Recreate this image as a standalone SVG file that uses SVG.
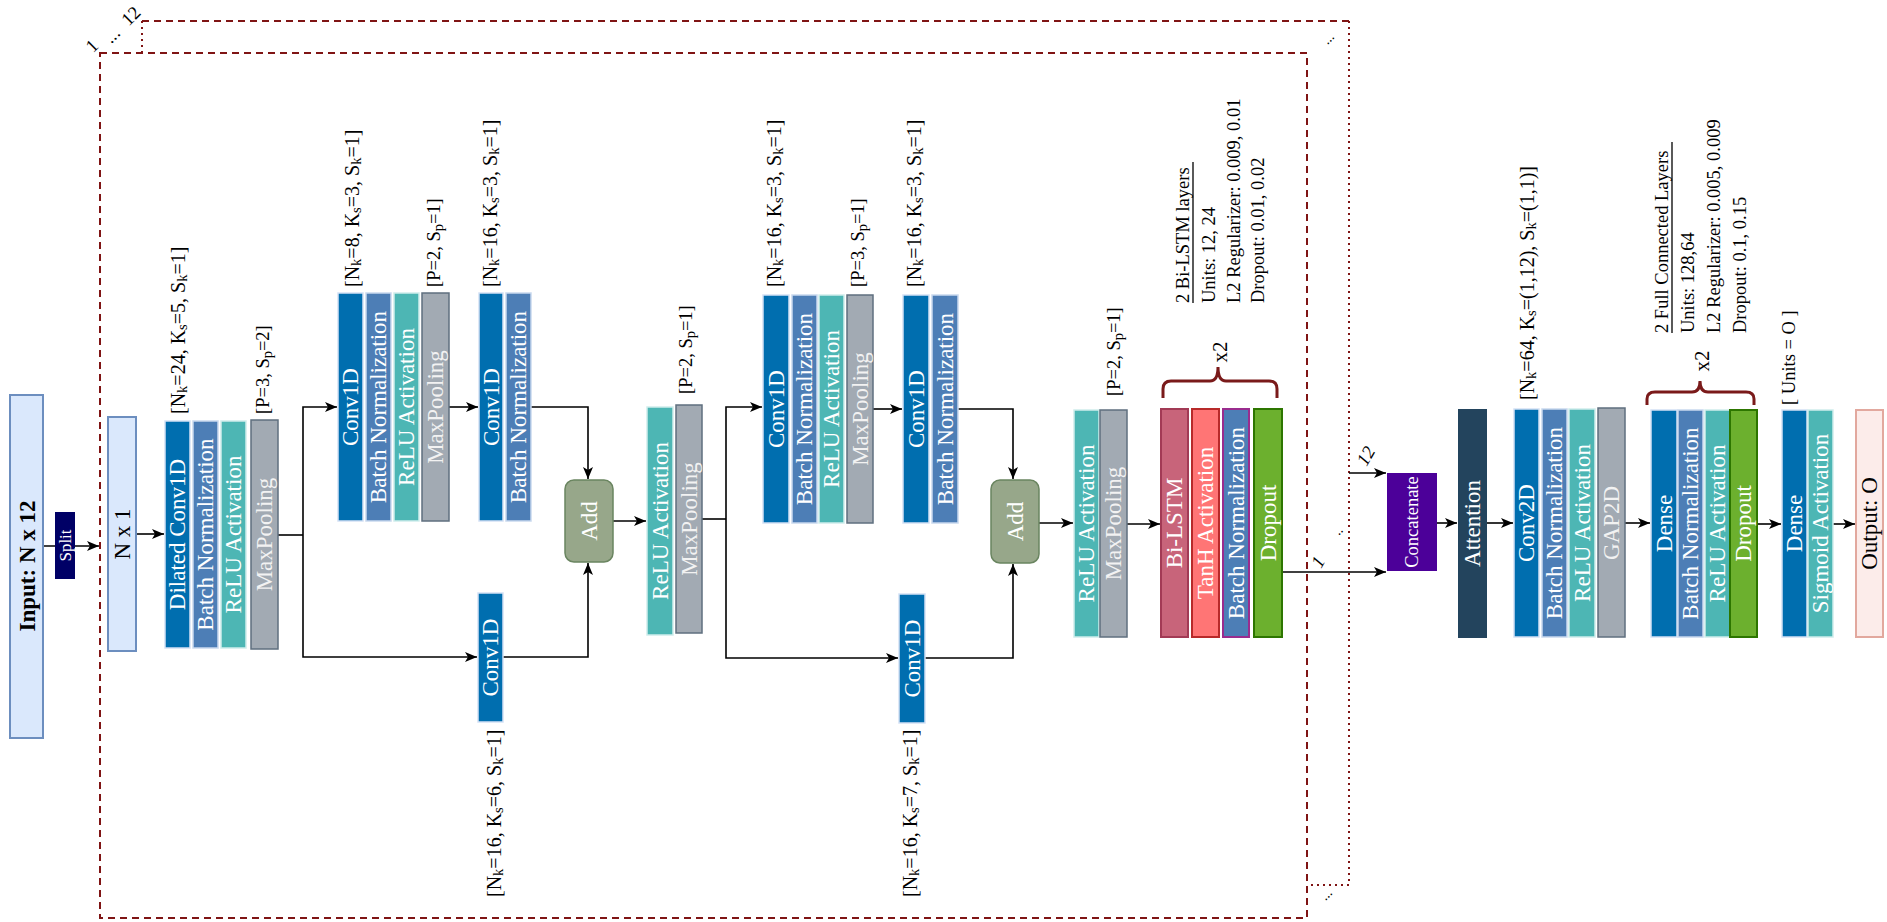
<svg xmlns="http://www.w3.org/2000/svg" width="1887" height="922" viewBox="0 0 1887 922">
  <defs>
    <marker id="arr" markerUnits="userSpaceOnUse" markerWidth="13" markerHeight="11" refX="12" refY="5" orient="auto">
      <path d="M0,0 L12,5 L0,10 L3,5 z" fill="#000"/>
    </marker>
    <style>
      .conv{fill:#006EAF;stroke:#D4E1F5;stroke-width:1.5}
      .bn{fill:#4D7EB6;stroke:#C9D9EE;stroke-width:1.5}
      .relu{fill:#4DB6B4;stroke:#CFEDEC;stroke-width:1.5}
      .pool{fill:#A2AAB3;stroke:#5F6F7F;stroke-width:1.5}
      .add{fill:#97A78A;stroke:#6A8560;stroke-width:1.5}
      .drop{fill:#6CB02E;stroke:#2D7600;stroke-width:2}
      .t{font-family:"Liberation Serif","Times New Roman",serif;font-size:23px;fill:#fff;text-anchor:middle;dominant-baseline:central}
      .tk{fill:#000}
      .tg{fill:#F2F2F2}
      .small{font-size:17px}
      .cat{font-size:18.5px}
      .lbl{font-family:"Liberation Serif","Times New Roman",serif;font-size:18.5px;fill:#000;dominant-baseline:central}
      .par{font-size:20px}
      .s{font-size:14.5px}
      .rep{font-size:21px}
      .dots{font-size:14px}
      .link{fill:none;stroke:#000;stroke-width:1.6}
      .arrow{marker-end:url(#arr)}
      .frame{fill:none;stroke:#7F1414;stroke-width:2;stroke-dasharray:7 5}
      .dot{fill:none;stroke:#7F1414;stroke-width:2;stroke-dasharray:2 4}
      .brace{fill:none;stroke:#7A1A1A;stroke-width:3}
    </style>
  </defs>

  <!-- replicated branch frames (1 ... 12) -->
  <g id="frames">
    <path class="frame" d="M142,21 L1349,21"/>
    <path class="dot" d="M142,21 L142,53"/>
    <path class="dot" d="M1349,21 L1349,885 L1307,885"/>
    <rect class="frame" x="100" y="53" width="1207" height="865"/>
    <text class="lbl" transform="translate(92,46) rotate(-45)" text-anchor="middle">1</text>
    <text class="lbl" transform="translate(112,35) rotate(-45)" text-anchor="middle">...</text>
    <text class="lbl" transform="translate(131,16) rotate(-45)" text-anchor="middle">12</text>
    <text class="lbl dots" transform="translate(1328,38) rotate(-45)" text-anchor="middle">...</text>
    <text class="lbl dots" transform="translate(1326,894) rotate(-45)" text-anchor="middle">...</text>
  </g>

  <!-- connectors -->
  <g id="connectors">
    <path class="link arrow" d="M43,546 L99,546"/>
    <path class="link arrow" d="M136,534 L164,534"/>
    <path class="link" d="M278,535 L303,535"/>
    <path class="link arrow" d="M303,535 L303,407 L337,407"/>
    <path class="link arrow" d="M303,535 L303,657 L477,657"/>
    <path class="link arrow" d="M449,407 L478,407"/>
    <path class="link arrow" d="M531,407 L588,407 L588,479"/>
    <path class="link arrow" d="M503,657 L588,657 L588,563"/>
    <path class="link arrow" d="M613,521 L646,521"/>
    <path class="link" d="M702,519 L726,519"/>
    <path class="link arrow" d="M726,519 L726,407 L762,407"/>
    <path class="link arrow" d="M726,519 L726,658 L898,658"/>
    <path class="link arrow" d="M873,409 L902,409"/>
    <path class="link arrow" d="M958,409 L1013,409 L1013,479"/>
    <path class="link arrow" d="M925,658 L1013,658 L1013,564"/>
    <path class="link arrow" d="M1039,523 L1073,523"/>
    <path class="link arrow" d="M1127,524 L1160,524"/>
    <path class="link arrow" d="M1282,572 L1386,572"/>
    <path class="link arrow" d="M1349,473 L1386,473"/>
    <path class="link arrow" d="M1437,523 L1457,523"/>
    <path class="link arrow" d="M1487,523 L1513,523"/>
    <path class="link arrow" d="M1625,523 L1650,523"/>
    <path class="link arrow" d="M1757,524 L1781,524"/>
    <path class="link arrow" d="M1833,524 L1855,524"/>
    <text class="lbl" transform="translate(1318,562) rotate(-60)" text-anchor="middle" font-style="italic">1</text>
    <text class="lbl dots" transform="translate(1338,530) rotate(-45)" text-anchor="middle">..</text>
    <text class="lbl" transform="translate(1366,456) rotate(-60)" text-anchor="middle" font-style="italic">12</text>
  </g>

  <g id="input">
    <rect x="10" y="395" width="33" height="343" fill="#DAE8FC" stroke="#6C8EBF" stroke-width="2"/>
    <text class="t tk" transform="translate(27,566) rotate(-90)" font-weight="bold">Input: N x 12</text>
  </g>
  <g id="split">
    <rect x="55" y="512" width="20" height="67" fill="#000066"/>
    <text class="t small" transform="translate(65,545.5) rotate(-90)">Split</text>
  </g>
  <g id="nx1">
    <rect x="108" y="417" width="28" height="234" fill="#DAE8FC" stroke="#6C8EBF" stroke-width="2"/>
    <text class="t tk" transform="translate(122,534) rotate(-90)">N x 1</text>
  </g>

  <!-- dilated conv stage -->
  <g id="dilated-block">
    <rect class="conv" x="165" y="421" width="25" height="227"/>
    <rect class="bn" x="193" y="421" width="25" height="227"/>
    <rect class="relu" x="221" y="421" width="25" height="227"/>
    <rect class="pool" x="251" y="420" width="27" height="229"/>
    <text class="t" transform="translate(177.5,534.5) rotate(-90)">Dilated Conv1D</text>
    <text class="t" transform="translate(205.5,534.5) rotate(-90)">Batch Normalization</text>
    <text class="t" transform="translate(233.5,534.5) rotate(-90)">ReLU Activation</text>
    <text class="t tg" transform="translate(264.5,534.5) rotate(-90)">MaxPooling</text>
    <text class="lbl par" transform="translate(178,414) rotate(-90)">[N<tspan class="s" dy="4">k</tspan><tspan dy="-4">=24, K</tspan><tspan class="s" dy="4">s</tspan><tspan dy="-4">=5, S</tspan><tspan class="s" dy="4">k</tspan><tspan dy="-4">=1]</tspan></text>
    <text class="lbl" transform="translate(263,414) rotate(-90)">[P=3, S<tspan class="s" dy="4">p</tspan><tspan dy="-4">=2]</tspan></text>
  </g>

  <!-- residual block 1 -->
  <g id="res1-main">
    <rect class="conv" x="338" y="293" width="25" height="228"/>
    <rect class="bn" x="366" y="293" width="25" height="228"/>
    <rect class="relu" x="394" y="293" width="25" height="228"/>
    <rect class="pool" x="422" y="293" width="27" height="228"/>
    <text class="t" transform="translate(350.5,407) rotate(-90)">Conv1D</text>
    <text class="t" transform="translate(378.5,407) rotate(-90)">Batch Normalization</text>
    <text class="t" transform="translate(406.5,407) rotate(-90)">ReLU Activation</text>
    <text class="t tg" transform="translate(435.5,407) rotate(-90)">MaxPooling</text>
    <text class="lbl par" transform="translate(352,287) rotate(-90)">[N<tspan class="s" dy="4">k</tspan><tspan dy="-4">=8, K</tspan><tspan class="s" dy="4">s</tspan><tspan dy="-4">=3, S</tspan><tspan class="s" dy="4">k</tspan><tspan dy="-4">=1]</tspan></text>
    <text class="lbl" transform="translate(434,287) rotate(-90)">[P=2, S<tspan class="s" dy="4">p</tspan><tspan dy="-4">=1]</tspan></text>
  </g>
  <g id="res1-conv2">
    <rect class="conv" x="479" y="293" width="24" height="228"/>
    <rect class="bn" x="506" y="293" width="25" height="228"/>
    <text class="t" transform="translate(491,407) rotate(-90)">Conv1D</text>
    <text class="t" transform="translate(518.5,407) rotate(-90)">Batch Normalization</text>
    <text class="lbl par" transform="translate(490,287) rotate(-90)">[N<tspan class="s" dy="4">k</tspan><tspan dy="-4">=16, K</tspan><tspan class="s" dy="4">s</tspan><tspan dy="-4">=3, S</tspan><tspan class="s" dy="4">k</tspan><tspan dy="-4">=1]</tspan></text>
  </g>
  <g id="res1-shortcut">
    <rect class="conv" x="478" y="593" width="25" height="129"/>
    <text class="t" transform="translate(490.5,657.5) rotate(-90)">Conv1D</text>
    <text class="lbl par" transform="translate(494,897) rotate(-90)">[N<tspan class="s" dy="4">k</tspan><tspan dy="-4">=16, K</tspan><tspan class="s" dy="4">s</tspan><tspan dy="-4">=6, S</tspan><tspan class="s" dy="4">k</tspan><tspan dy="-4">=1]</tspan></text>
  </g>
  <g id="add1">
    <rect class="add" x="565" y="480" width="48" height="82" rx="9"/>
    <text class="t" transform="translate(589,521) rotate(-90)">Add</text>
  </g>
  <g id="post-add1">
    <rect class="relu" x="647" y="407" width="26" height="228"/>
    <rect class="pool" x="676" y="405" width="26" height="228"/>
    <text class="t" transform="translate(660,521) rotate(-90)">ReLU Activation</text>
    <text class="t tg" transform="translate(689,519) rotate(-90)">MaxPooling</text>
    <text class="lbl" transform="translate(686,394) rotate(-90)">[P=2, S<tspan class="s" dy="4">p</tspan><tspan dy="-4">=1]</tspan></text>
  </g>

  <!-- residual block 2 -->
  <g id="res2-main">
    <rect class="conv" x="763" y="295" width="26" height="228"/>
    <rect class="bn" x="792" y="295" width="25" height="228"/>
    <rect class="relu" x="819" y="295" width="25" height="228"/>
    <rect class="pool" x="847" y="295" width="26" height="228"/>
    <text class="t" transform="translate(776,409) rotate(-90)">Conv1D</text>
    <text class="t" transform="translate(804.5,409) rotate(-90)">Batch Normalization</text>
    <text class="t" transform="translate(831.5,409) rotate(-90)">ReLU Activation</text>
    <text class="t tg" transform="translate(860,409) rotate(-90)">MaxPooling</text>
    <text class="lbl par" transform="translate(774,287) rotate(-90)">[N<tspan class="s" dy="4">k</tspan><tspan dy="-4">=16, K</tspan><tspan class="s" dy="4">s</tspan><tspan dy="-4">=3, S</tspan><tspan class="s" dy="4">k</tspan><tspan dy="-4">=1]</tspan></text>
    <text class="lbl" transform="translate(858,287) rotate(-90)">[P=3, S<tspan class="s" dy="4">p</tspan><tspan dy="-4">=1]</tspan></text>
  </g>
  <g id="res2-conv2">
    <rect class="conv" x="903" y="295" width="26" height="228"/>
    <rect class="bn" x="932" y="295" width="26" height="228"/>
    <text class="t" transform="translate(916,409) rotate(-90)">Conv1D</text>
    <text class="t" transform="translate(945,409) rotate(-90)">Batch Normalization</text>
    <text class="lbl par" transform="translate(914,287) rotate(-90)">[N<tspan class="s" dy="4">k</tspan><tspan dy="-4">=16, K</tspan><tspan class="s" dy="4">s</tspan><tspan dy="-4">=3, S</tspan><tspan class="s" dy="4">k</tspan><tspan dy="-4">=1]</tspan></text>
  </g>
  <g id="res2-shortcut">
    <rect class="conv" x="899" y="594" width="26" height="129"/>
    <text class="t" transform="translate(912,658.5) rotate(-90)">Conv1D</text>
    <text class="lbl par" transform="translate(910,897) rotate(-90)">[N<tspan class="s" dy="4">k</tspan><tspan dy="-4">=16, K</tspan><tspan class="s" dy="4">s</tspan><tspan dy="-4">=7, S</tspan><tspan class="s" dy="4">k</tspan><tspan dy="-4">=1]</tspan></text>
  </g>
  <g id="add2">
    <rect class="add" x="991" y="480" width="48" height="83" rx="9"/>
    <text class="t" transform="translate(1015,521.5) rotate(-90)">Add</text>
  </g>
  <g id="post-add2">
    <rect class="relu" x="1074" y="410" width="25" height="227"/>
    <rect class="pool" x="1100" y="410" width="27" height="227"/>
    <text class="t" transform="translate(1086.5,523.5) rotate(-90)">ReLU Activation</text>
    <text class="t tg" transform="translate(1113.5,523.5) rotate(-90)">MaxPooling</text>
    <text class="lbl" transform="translate(1114,396) rotate(-90)">[P=2, S<tspan class="s" dy="4">p</tspan><tspan dy="-4">=1]</tspan></text>
  </g>

  <!-- recurrent stage -->
  <g id="bilstm-block">
    <rect x="1161" y="409" width="27" height="228" fill="#C8647A" stroke="#A23A55" stroke-width="2"/>
    <rect x="1192" y="409" width="27" height="228" fill="#FF7575" stroke="#B82A2A" stroke-width="2"/>
    <rect x="1223" y="409" width="26" height="228" fill="#4D7EB6" stroke="#9A2C8E" stroke-width="2"/>
    <rect class="drop" x="1254" y="409" width="28" height="228"/>
    <text class="t" transform="translate(1174.5,523) rotate(-90)">Bi-LSTM</text>
    <text class="t" transform="translate(1205.5,523) rotate(-90)">TanH Activation</text>
    <text class="t" transform="translate(1236,523) rotate(-90)">Batch Normalization</text>
    <text class="t" transform="translate(1268,523) rotate(-90)">Dropout</text>
    <path class="brace" d="M1163,398 L1163,389 Q1163,381 1171,381 L1210,381 Q1218,381 1218,367 Q1218,381 1226,381 L1269,381 Q1277,381 1277,389 L1277,398"/>
    <text class="lbl rep" transform="translate(1220,352) rotate(-90)" text-anchor="middle">x2</text>
    <text class="lbl" transform="translate(1183,303) rotate(-90)">2 Bi-LSTM layers</text>
    <path d="M1193,303 L1193,162" stroke="#000" stroke-width="1.3"/>
    <text class="lbl" transform="translate(1209,303) rotate(-90)">Units: 12, 24</text>
    <text class="lbl" transform="translate(1234,303) rotate(-90)">L2 Regularizer: 0.009, 0.01</text>
    <text class="lbl" transform="translate(1258,303) rotate(-90)">Dropout: 0.01, 0.02</text>
  </g>

  <g id="concatenate">
    <rect x="1387" y="473" width="50" height="98" fill="#4C0099"/>
    <text class="t cat" transform="translate(1412,522) rotate(-90)">Concatenate</text>
  </g>
  <g id="attention">
    <rect x="1458" y="409" width="29" height="229" fill="#23445D"/>
    <text class="t" transform="translate(1472.5,523.5) rotate(-90)">Attention</text>
  </g>

  <g id="conv2d-block">
    <rect class="conv" x="1514" y="409" width="25" height="228"/>
    <rect class="bn" x="1542" y="409" width="25" height="228"/>
    <rect class="relu" x="1569" y="409" width="26" height="228"/>
    <rect class="pool" x="1598" y="408" width="27" height="229"/>
    <text class="t" transform="translate(1526.5,523) rotate(-90)">Conv2D</text>
    <text class="t" transform="translate(1554.5,523) rotate(-90)">Batch Normalization</text>
    <text class="t" transform="translate(1582,523) rotate(-90)">ReLU Activation</text>
    <text class="t tg" transform="translate(1611.5,523) rotate(-90)">GAP2D</text>
    <text class="lbl par" transform="translate(1527,400) rotate(-90)">[N<tspan class="s" dy="4">k</tspan><tspan dy="-4">=64, K</tspan><tspan class="s" dy="4">s</tspan><tspan dy="-4">=(1,12), S</tspan><tspan class="s" dy="4">k</tspan><tspan dy="-4">=(1,1)]</tspan></text>
  </g>

  <g id="dense-block">
    <rect class="conv" x="1651" y="410" width="26" height="227"/>
    <rect class="bn" x="1678" y="410" width="25" height="227"/>
    <rect class="relu" x="1705" y="410" width="25" height="227"/>
    <rect class="drop" x="1730" y="410" width="27" height="227"/>
    <text class="t" transform="translate(1664,523.5) rotate(-90)">Dense</text>
    <text class="t" transform="translate(1690.5,523.5) rotate(-90)">Batch Normalization</text>
    <text class="t" transform="translate(1717.5,523.5) rotate(-90)">ReLU Activation</text>
    <text class="t" transform="translate(1743.5,523.5) rotate(-90)">Dropout</text>
    <path class="brace" d="M1647,405 L1647,399 Q1647,392 1655,392 L1692,392 Q1700,392 1700,381 Q1700,392 1708,392 L1746,392 Q1754,392 1754,399 L1754,405"/>
    <text class="lbl rep" transform="translate(1702,361) rotate(-90)" text-anchor="middle">x2</text>
    <text class="lbl" transform="translate(1662,333) rotate(-90)">2 Full Connected Layers</text>
    <path d="M1672,333 L1672,142" stroke="#000" stroke-width="1.3"/>
    <text class="lbl" transform="translate(1688,333) rotate(-90)">Units: 128,64</text>
    <text class="lbl" transform="translate(1714,333) rotate(-90)">L2 Regularizer: 0.005, 0.009</text>
    <text class="lbl" transform="translate(1740,333) rotate(-90)">Dropout: 0.1, 0.15</text>
  </g>

  <g id="output-dense">
    <rect class="conv" x="1782" y="410" width="25" height="227"/>
    <rect class="relu" x="1808" y="410" width="25" height="227"/>
    <text class="t" transform="translate(1794.5,523.5) rotate(-90)">Dense</text>
    <text class="t" transform="translate(1820.5,523.5) rotate(-90)">Sigmoid Activation</text>
    <text class="lbl" transform="translate(1789,405) rotate(-90)">[ Units = O ]</text>
  </g>
  <g id="output">
    <rect x="1856" y="410" width="27" height="227" fill="#FCECEA" stroke="#E2A89E" stroke-width="2"/>
    <text class="t tk" transform="translate(1869.5,523.5) rotate(-90)">Output: O</text>
  </g>
</svg>
